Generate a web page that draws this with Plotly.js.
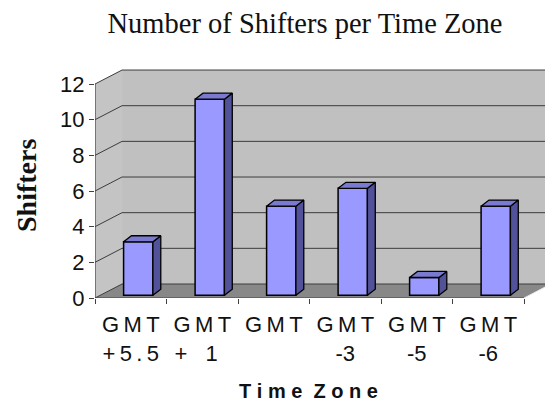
<!DOCTYPE html>
<html>
<head>
<meta charset="utf-8">
<script src="https://cdn.plot.ly/plotly-3.0.1.min.js"></script>
<style>html,body{margin:0;padding:0;background:#fff;}#chart{width:545px;height:405px;}</style>
</head>
<body>
<div id="chart"></div>
<script>
// ---- data ----
const categories = ['GMT +5.5', 'GMT +1', 'GMT', 'GMT -3', 'GMT -5', 'GMT -6'];
const shifters = [3, 11, 5, 6, 1, 5];
const tickLabels = [
  'G\u2009M\u2009T<br>+\u20095\u2009.\u20095',
  'G\u2009M\u2009T<br>+\u00a0\u00a0\u00a01\u00a0\u00a0',
  'G\u2009M\u2009T',
  'G\u2009M\u2009T<br>-3',
  'G\u2009M\u2009T<br>-5',
  'G\u2009M\u2009T<br>-6'];
const yTickValues = [0, 2, 4, 6, 8, 10, 12];
const yTickLabels = ['0', '2', '4', '6', '8', '10', '12'];
const chartTitle = 'Number of Shifters per Time Zone';
const xTitle = 'T i m e\u00a0\u00a0Z o n e';
const yTitle = 'Shifters';

// ---- 3D geometry (axis units) ----
const n = categories.length;
const X0 = -0.5, X1 = n - 0.5;
const YMAX = yTickValues[yTickValues.length - 1];
const DX = 0.378, DY = 0.785;      // depth offset of back wall
const BX = 0.105, BY = 0.15;        // bar front-face offset
const BW = 0.41;                    // bar width
const SX = 0.11, SY = 0.34;         // bar depth offset
const xRange = [X0, X0 + 450 / 71.5];
const yRange = [0, 236 / 17.83];

const traces = [];
function poly(xs, ys, fill, axes, lineColor, lineWidth) {
  const t = {type: 'scatter', mode: lineColor ? 'lines' : 'none', x: xs.concat([xs[0]]), y: ys.concat([ys[0]]),
    fill: 'toself', fillcolor: fill, hoverinfo: 'skip', showlegend: false,
    line: {color: lineColor || 'rgba(0,0,0,0)', width: lineWidth || 0}};
  if (axes) { t.xaxis = 'x2'; t.yaxis = 'y2'; }
  traces.push(t);
}
// back wall
poly([X0 + DX, X1 + DX, X1 + DX, X0 + DX], [DY, DY, YMAX + DY, YMAX + DY], '#c0c0c0');
// left wall
poly([X0, X0, X0 + DX, X0 + DX], [0, YMAX, YMAX + DY, DY], '#c4c4c4');
// floor
poly([X0, X1, X1 + DX, X0 + DX], [0, 0, DY, DY], '#888888');
// grid lines
const gx = [], gy = [];
yTickValues.forEach(v => { gx.push(X0, X0 + DX, X1 + DX, null); gy.push(v, v + DY, v + DY, null); });
traces.push({type: 'scatter', mode: 'lines', x: gx, y: gy, line: {color: '#3c3c3c', width: 1}, hoverinfo: 'skip', showlegend: false});
// floor right edge
traces.push({type: 'scatter', mode: 'lines', x: [X1, X1 + DX], y: [0, DY], line: {color: '#e8e8e8', width: 1}, hoverinfo: 'skip', showlegend: false});
// axis lines
traces.push({type: 'scatter', mode: 'lines', x: [X0, X0, null, X0, X1], y: [0, YMAX, null, 0, 0], line: {color: '#404040', width: 1.2}, hoverinfo: 'skip', showlegend: false});

// bars (front faces)
const barX = categories.map((c, i) => i + BX);
traces.push({type: 'bar', x: barX, y: shifters, base: BY, width: BW, xaxis: 'x2', yaxis: 'y2',
  marker: {color: '#9999ff', line: {color: '#000000', width: 1.5}}, showlegend: false, hoverinfo: 'y'});
// bar top and side faces
shifters.forEach((v, i) => {
  const xl = barX[i] - BW / 2, xr = barX[i] + BW / 2, top = BY + v;
  poly([xr, xr, xr + SX, xr + SX], [BY, top, top + SY, BY + SY], '#52529a', true, '#000000', 1.3);
  poly([xl, xr, xr + SX, xl + SX], [top, top, top + SY, top + SY], '#7a7ad0', true, '#000000', 1.3);
});

const layout = {
  width: 545, height: 405,
  margin: {l: 95, r: 0, t: 62, b: 107, pad: 0},
  paper_bgcolor: '#ffffff', plot_bgcolor: 'rgba(0,0,0,0)',
  showlegend: false,
  font: {family: 'Liberation Sans, Arial, sans-serif', color: '#111111'},
  title: {text: chartTitle, font: {family: 'Liberation Serif, Times New Roman, serif', size: 28.5, color: '#111111'},
    x: (305 - 95) / 450, xanchor: 'center', xref: 'paper', y: 1 - 23 / 405, yanchor: 'middle', yref: 'container'},
  xaxis: {range: xRange, showgrid: false, zeroline: false, showline: false, fixedrange: true,
    tickmode: 'array', tickvals: categories.map((c, i) => i), ticktext: tickLabels, ticks: '',
    tickfont: {size: 22, color: '#111111'}, ticklabelstandoff: 11,
    minor: {tickmode: 'array', tickvals: categories.map((c, i) => i - 0.5).concat([X1]), ticks: 'outside', ticklen: 5, tickcolor: '#404040', tickwidth: 1, showgrid: false}},
  yaxis: {range: yRange, showgrid: false, zeroline: false, showline: false, fixedrange: true,
    tickmode: 'array', tickvals: yTickValues, ticktext: yTickLabels, ticks: 'outside', ticklen: 5, tickcolor: '#404040',
    tickfont: {size: 22, color: '#111111'}},
  xaxis2: {range: xRange, overlaying: 'x', anchor: 'y2', visible: false, fixedrange: true},
  yaxis2: {range: yRange, overlaying: 'y', anchor: 'x2', visible: false, fixedrange: true},
  annotations: [
    {text: '<b>' + yTitle + '</b>', xref: 'paper', yref: 'paper', x: (26 - 95) / 450, y: (298 - 186) / 236, xanchor: 'center', yanchor: 'middle',
      textangle: -90, showarrow: false, font: {family: 'Liberation Serif, Times New Roman, serif', size: 28, color: '#111111'}},
    {text: '<b>' + xTitle + '</b>', xref: 'paper', yref: 'paper', x: (308 - 95) / 450, y: (298 - 391) / 236, xanchor: 'center', yanchor: 'middle',
      showarrow: false, font: {family: 'Liberation Sans, Arial, sans-serif', size: 20, color: '#111111'}}
  ]
};
Plotly.newPlot('chart', traces, layout, {displayModeBar: false, staticPlot: true});
</script>
</body>
</html>
